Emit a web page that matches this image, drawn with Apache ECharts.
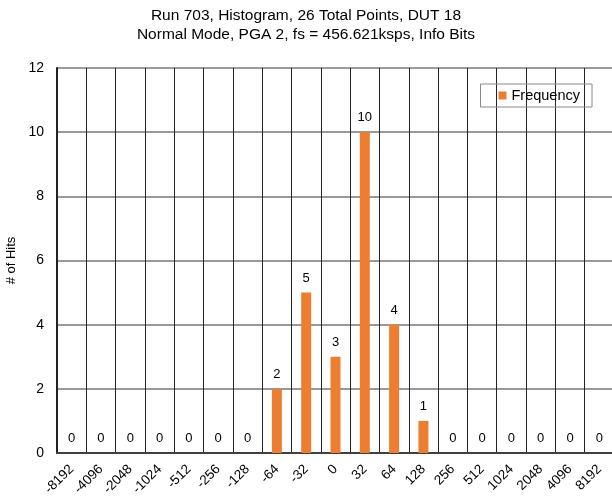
<!DOCTYPE html>
<html>
<head>
<meta charset="utf-8">
<script src="https://cdn.jsdelivr.net/npm/echarts@6/dist/echarts.min.js"></script>
<style>
  html, body { margin: 0; padding: 0; background: #fff; }
  #main { width: 612px; height: 502px; }
</style>
</head>
<body>
<div id="main"></div>
<script>
// bins of the histogram
const binLabels = ['-8192', '-4096', '-2048', '-1024', '-512', '-256', '-128', '-64', '-32', '0',
    '32', '64', '128', '256', '512', '1024', '2048', '4096', '8192']
const frequency = [0, 0, 0, 0, 0, 0, 0, 2, 5, 3, 10, 4, 1, 0, 0, 0, 0, 0, 0]
const yTicks = [0, 2, 4, 6, 8, 10, 12]

const chart = echarts.init(document.getElementById('main'))
const font = 'Liberation Sans, Arial, sans-serif'

const option = {
    animation: false,
    title: {
        text: 'Run 703, Histogram, 26 Total Points, DUT 18\nNormal Mode, PGA 2, fs = 456.621ksps, Info Bits',
        left: 'center',
        top: 1,
        textStyle: {
            fontFamily: font,
            fontSize: 15.5,
            fontWeight: 'normal',
            color: '#000',
            lineHeight: 19
        }
    },
    legend: {
        data: ['Frequency'],
        right: 20,
        top: 84,
        itemWidth: 8,
        itemHeight: 8,
        itemGap: 4,
        icon: 'rect',
        borderColor: '#888',
        borderWidth: 1,
        borderRadius: 0,
        padding: [4, 12, 4, 18],
        textStyle: { fontFamily: font, fontSize: 14.5, color: '#000' }
    },
    grid: {
        left: 57,
        top: 68,
        width: 557,
        height: 385,
        containLabel: false,
        outerBoundsMode: 'none'
    },
    xAxis: {
        type: 'category',
        data: binLabels,
        axisTick: { show: false },
        axisLine: { lineStyle: { color: '#404040', width: 2 } },
        axisLabel: {
            rotate: 45,
            interval: 0,
            margin: 14,
            fontFamily: font,
            fontSize: 13.5,
            color: '#000'
        },
        splitLine: {
            show: true,
            interval: 0,
            lineStyle: { color: '#222', width: 1 }
        }
    },
    yAxis: {
        type: 'value',
        min: yTicks[0],
        max: yTicks[yTicks.length - 1],
        interval: 2,
        name: '# of Hits',
        nameLocation: 'middle',
        nameGap: 36,
        nameTextStyle: { fontFamily: font, fontSize: 13, color: '#000' },
        axisLine: { show: true, lineStyle: { color: '#222', width: 2 } },
        axisTick: { show: false },
        axisLabel: { fontFamily: font, fontSize: 14, color: '#000', margin: 13 },
        splitLine: { lineStyle: { color: '#777', width: 1.5 } }
    },
    series: [
        {
            name: 'Frequency',
            type: 'bar',
            data: frequency,
            barWidth: 10,
            itemStyle: { color: '#ED7D31' },
            label: {
                show: true,
                position: 'top',
                distance: 8,
                fontFamily: font,
                fontSize: 13,
                color: '#000'
            }
        }
    ]
}

chart.setOption(option)
</script>
</body>
</html>
